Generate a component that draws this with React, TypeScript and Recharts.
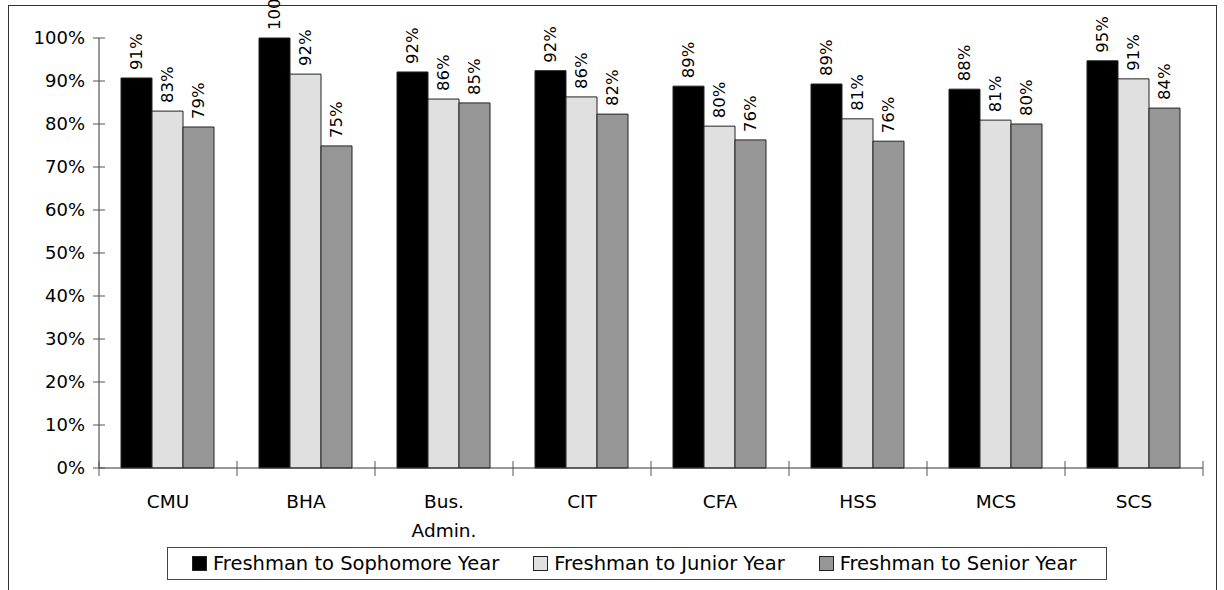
import { BarChart, Bar, XAxis, YAxis, LabelList } from 'recharts';

const categories = ['CMU', 'BHA', 'Bus.\nAdmin.', 'CIT', 'CFA', 'HSS', 'MCS', 'SCS'];
const sophomore = [90.7, 100, 92.1, 92.4, 88.8, 89.3, 88.1, 94.7];
const junior = [83.0, 91.6, 85.8, 86.3, 79.5, 81.2, 80.9, 90.5];
const senior = [79.3, 74.9, 84.9, 82.3, 76.3, 76.0, 80.0, 83.7];
const yTicks = [0, 10, 20, 30, 40, 50, 60, 70, 80, 90, 100];

const SERIES = [
  { key: 'soph', name: 'Freshman to Sophomore Year', color: '#000000' },
  { key: 'jun', name: 'Freshman to Junior Year', color: '#e0e0e0' },
  { key: 'sen', name: 'Freshman to Senior Year', color: '#969696' },
];

const W = 1224;
const H = 590;
const MARGIN = { top: 38, right: 21, left: 0, bottom: 42 };
const Y_WIDTH = 99;
const FONT = '"DejaVu Sans", Verdana, sans-serif';
const BAND = (W - MARGIN.right - MARGIN.left - Y_WIDTH) / categories.length;

const data = categories.map((name, i) => ({
  name,
  soph: sophomore[i],
  jun: junior[i],
  sen: senior[i],
}));

const YTick = ({ x, y, payload }: any) => (
  <g>
    <line x1={x - 6} x2={x + 6} y1={y} y2={y} stroke="#555" />
    <text x={x - 14} y={y} dy={6} textAnchor="end" fontSize={18} fontFamily={FONT} fill="#000">
      {payload.value}%
    </text>
  </g>
);

const XTick = ({ x, y, payload, index }: any) => {
  const lines = String(payload.value).split('\n');
  return (
    <g>
      <line x1={x - BAND / 2} x2={x - BAND / 2} y1={y - 7} y2={y + 8} stroke="#555" />
      {index === categories.length - 1 && (
        <line x1={x + BAND / 2} x2={x + BAND / 2} y1={y - 7} y2={y + 8} stroke="#555" />
      )}
      <text x={x} y={y + 40} textAnchor="middle" fontSize={18.5} fontFamily={FONT} fill="#000">
        {lines.map((l, i) => (
          <tspan key={i} x={x} dy={i === 0 ? 0 : 29}>
            {l}
          </tspan>
        ))}
      </text>
    </g>
  );
};

const ValueLabel = ({ x, y, width, value }: any) => {
  const cx = x + width / 2;
  const ty = y - 8;
  return (
    <text
      x={cx}
      y={ty}
      transform={`rotate(-90, ${cx}, ${ty})`}
      textAnchor="start"
      dominantBaseline="central"
      fontSize={16.5}
      fontFamily={FONT}
      fill="#000"
    >
      {Math.round(value)}%
    </text>
  );
};

export default function App() {
  return (
    <div style={{ position: 'absolute', left: 0, top: 0, width: W, height: H, overflow: 'hidden', background: '#fff' }}>
      <div
        style={{
          position: 'absolute',
          left: 8,
          top: 5,
          width: 1209,
          height: 700,
          border: '1.5px solid #333',
          boxSizing: 'border-box',
        }}
      />
      <div style={{ position: 'absolute', left: 0, top: 0 }}>
        <BarChart width={W} height={H} data={data} margin={MARGIN} barGap={0} barCategoryGap={22}>
          <YAxis
            width={Y_WIDTH}
            domain={[0, 100]}
            ticks={yTicks}
            interval={0}
            tickLine={false}
            tickSize={0}
            tickMargin={0}
            axisLine={{ stroke: '#333' }}
            tick={<YTick />}
          />
          <XAxis
            dataKey="name"
            height={80}
            interval={0}
            tickLine={false}
            tickSize={0}
            tickMargin={0}
            axisLine={{ stroke: '#333' }}
            tick={<XTick />}
          />
          {SERIES.map((s) => (
            <Bar
              key={s.key}
              dataKey={s.key}
              name={s.name}
              fill={s.color}
              stroke="#222"
              strokeWidth={1}
              isAnimationActive={false}
            >
              <LabelList dataKey={s.key} content={<ValueLabel />} />
            </Bar>
          ))}
        </BarChart>
      </div>
      <div
        style={{
          position: 'absolute',
          left: 167,
          top: 547,
          width: 940,
          height: 33,
          border: '1.5px solid #444',
          boxSizing: 'border-box',
          display: 'flex',
          alignItems: 'center',
          paddingLeft: 24,
          fontFamily: FONT,
          fontSize: 19.5,
          color: '#000',
        }}
      >
        {SERIES.map((s) => (
          <div key={s.key} style={{ display: 'flex', alignItems: 'center', marginRight: 34 }}>
            <span
              style={{
                display: 'inline-block',
                width: 13,
                height: 13,
                background: s.color,
                border: '1px solid #222',
                marginRight: 6,
              }}
            />
            <span style={{ whiteSpace: 'nowrap' }}>{s.name}</span>
          </div>
        ))}
      </div>
    </div>
  );
}
